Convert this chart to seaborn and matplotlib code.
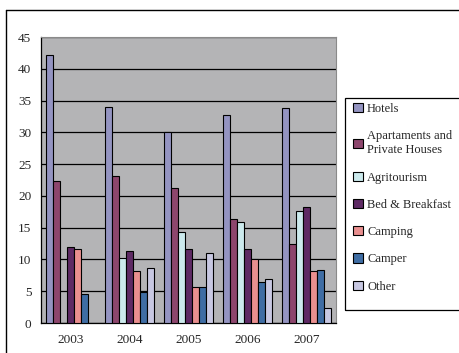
import numpy as np
import pandas as pd
import matplotlib
matplotlib.use('Agg')
import matplotlib.pyplot as plt
from matplotlib.lines import Line2D
from matplotlib.patches import Rectangle
import seaborn as sns

# data
years = ['2003', '2004', '2005', '2006', '2007']
hotels = [42.1, 34.0, 30.0, 32.7, 33.8]
apartments = [22.3, 23.1, 21.3, 16.4, 12.4]
agritourism = [None, 10.2, 14.3, 15.9, 17.6]
bed_breakfast = [12.0, 11.3, 11.6, 11.7, 18.3]
camping = [11.6, 8.2, 5.7, 10.0, 8.2]
camper = [4.5, 4.9, 5.7, 6.4, 8.3]
other = [None, 8.6, 11.0, 7.0, 2.3]

series_names = ['Hotels', 'Apartaments and\nPrivate Houses', 'Agritourism',
                'Bed & Breakfast', 'Camping', 'Camper', 'Other']
series_values = [hotels, apartments, agritourism, bed_breakfast, camping, camper, other]
colors = ['#8c8cc8', '#993a6e', '#c6eef2', '#66206e', '#f88080', '#2e6bb5', '#c4c4e6']

# long-form table, missing values dropped
rows = []
for name, vals in zip(series_names, series_values):
    for yr, v in zip(years, vals):
        rows.append({'year': yr, 'type': name, 'value': v})
df = pd.DataFrame(rows).dropna()

sns.set_style('white')
plt.rcParams['font.family'] = ['Liberation Serif', 'DejaVu Serif']

fig = plt.figure(figsize=(4.59, 3.53), dpi=100)
ax = fig.add_axes([41 / 459, 30 / 353, 295 / 459, 286 / 353])
ax.set_facecolor('#b4b4b6')

sns.barplot(data=df, x='year', y='value', hue='type', order=years,
            hue_order=series_names, palette=colors, width=0.84,
            edgecolor='black', linewidth=0.8, errorbar=None, ax=ax, zorder=3)

ax.set_ylim(0, 45)
ax.set_yticks(range(0, 46, 5))
ax.yaxis.grid(True, color='black', linewidth=0.9, zorder=0)
ax.set_axisbelow(True)
ax.set_xlim(-0.5, len(years) - 0.5)

# ticks at group boundaries, labels at group centres
ax.set_xticks(np.arange(-0.5, len(years)))
ax.set_xticklabels([])
ax.set_xticks(range(len(years)), minor=True)
ax.set_xticklabels(years, minor=True)
ax.tick_params(axis='x', which='major', direction='out', length=4, width=0.8, color='black')
ax.tick_params(axis='x', which='minor', length=0, pad=8, labelsize=9.5)
ax.tick_params(axis='y', direction='out', length=4, width=0.8, color='black', labelsize=9.5, pad=3)
ax.set_xlabel('')
ax.set_ylabel('')

for side in ['left', 'bottom']:
    ax.spines[side].set_color('black')
    ax.spines[side].set_linewidth(0.9)
for side in ['top', 'right']:
    ax.spines[side].set_color('#8a8a8a')
    ax.spines[side].set_linewidth(0.8)

# legend outside on the right, frame drawn separately
handles, labels = ax.get_legend_handles_labels()
ax.get_legend().remove()
fig.add_artist(Rectangle((345 / 459, 43 / 353), 130 / 459, 212 / 353, fill=False,
                         edgecolor='black', lw=0.9, transform=fig.transFigure))
leg = fig.legend(handles, labels, loc='upper left',
                 bbox_to_anchor=(352 / 459, 251 / 353),
                 borderaxespad=0, fontsize=9, frameon=False,
                 handlelength=0.75, handleheight=0.75, handletextpad=0.35,
                 labelspacing=1.22, borderpad=0.1)

# outer chart frame (left and top edges visible)
fig.add_artist(Line2D([6 / 459, 6 / 459], [0, 343 / 353], color='black', lw=1, transform=fig.transFigure))
fig.add_artist(Line2D([6 / 459, 1], [343 / 353, 343 / 353], color='black', lw=1, transform=fig.transFigure))

fig.savefig('out.png', dpi=100)
